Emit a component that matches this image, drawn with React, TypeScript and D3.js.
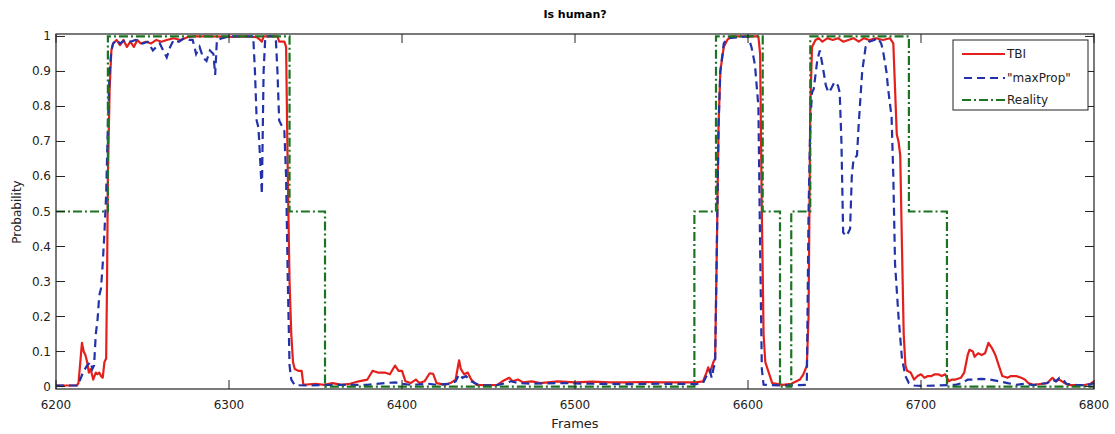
import * as d3 from "d3";

// TBI (red, solid)
const tbiFrames = [
  6200, 6212, 6213, 6215, 6216, 6217, 6218, 6219, 6220, 6221.5, 6223, 6224, 6225, 6226, 6227, 6228, 6229, 6229.5, 6230, 6231,
  6232, 6233, 6235, 6237, 6239, 6241, 6243, 6245, 6247, 6249, 6252, 6255, 6258, 6261, 6264, 6268, 6272, 6276, 6280, 6290,
  6300, 6310, 6316, 6318, 6319, 6320, 6328, 6329, 6332, 6333, 6334, 6335, 6336, 6337, 6338, 6340, 6342, 6343, 6350, 6355,
  6360, 6365, 6370, 6375, 6380, 6383, 6386, 6390, 6393, 6396, 6398, 6400, 6402, 6405, 6408, 6410, 6413, 6416, 6418, 6420,
  6425, 6428, 6431, 6433, 6434, 6436, 6438, 6440, 6443, 6450, 6455, 6458, 6460, 6462, 6464, 6467, 6470, 6475, 6480, 6490,
  6500, 6510, 6520, 6530, 6540, 6550, 6560, 6570, 6574, 6576, 6577, 6578, 6580, 6581, 6582, 6583, 6584, 6586, 6588, 6590,
  6606, 6607, 6608, 6609, 6610, 6612, 6614, 6620, 6625, 6628, 6630, 6632, 6634, 6635, 6636, 6637, 6639, 6641, 6643, 6646,
  6649, 6652, 6655, 6658, 6661, 6664, 6667, 6670, 6674, 6678, 6682, 6684, 6685, 6686, 6687, 6688, 6689, 6690, 6691, 6692,
  6694, 6696, 6698, 6700, 6702, 6704, 6706, 6708, 6710, 6712, 6714, 6716, 6718, 6720, 6723, 6725, 6727, 6728, 6730, 6731,
  6733, 6735, 6737, 6739, 6741, 6743, 6745, 6747, 6750, 6752, 6755, 6758, 6760, 6762, 6765, 6770, 6773, 6776, 6778, 6780,
  6783, 6785, 6790, 6795, 6798, 6800,
];
const tbiValues = [
  0.003, 0.003, 0.01, 0.125, 0.1, 0.09, 0.07, 0.04, 0.05, 0.02, 0.04, 0.035, 0.04, 0.03, 0.025, 0.07, 0.08, 0.3, 0.6, 0.85,
  0.96, 0.98, 0.99, 0.975, 0.99, 0.97, 0.985, 0.97, 0.99, 0.98, 0.985, 0.98, 0.99, 0.985, 0.99, 0.995, 0.99, 0.998, 1.0, 1.0,
  0.999, 1.0, 0.998, 0.99, 0.985, 1.0, 1.0, 0.985, 0.985, 0.97, 0.6, 0.3, 0.15, 0.07, 0.05, 0.045, 0.045, 0.005, 0.008, 0.005,
  0.01, 0.005, 0.008, 0.015, 0.02, 0.045, 0.04, 0.04, 0.035, 0.06, 0.045, 0.045, 0.015, 0.01, 0.02, 0.01, 0.015, 0.038, 0.036, 0.01,
  0.005, 0.01, 0.02, 0.075, 0.05, 0.035, 0.04, 0.02, 0.005, 0.004, 0.005, 0.015, 0.02, 0.025, 0.015, 0.02, 0.012, 0.015, 0.01, 0.015,
  0.012, 0.014, 0.012, 0.012, 0.013, 0.012, 0.012, 0.012, 0.015, 0.04, 0.055, 0.04, 0.07, 0.08, 0.4, 0.75, 0.9, 0.97, 0.99, 1.0,
  1.0, 0.95, 0.5, 0.15, 0.07, 0.04, 0.01, 0.005, 0.008, 0.015, 0.02, 0.035, 0.06, 0.2, 0.8, 0.97, 0.99, 0.995, 0.985, 0.995,
  0.99, 0.995, 0.985, 0.99, 0.995, 0.985, 0.995, 0.99, 0.995, 0.99, 0.995, 0.98, 0.85, 0.72, 0.7, 0.66, 0.4, 0.15, 0.06, 0.045,
  0.04, 0.02, 0.03, 0.035, 0.025, 0.03, 0.03, 0.035, 0.035, 0.03, 0.035, 0.015, 0.02, 0.02, 0.025, 0.04, 0.09, 0.105, 0.1, 0.085,
  0.095, 0.09, 0.095, 0.125, 0.11, 0.09, 0.06, 0.03, 0.025, 0.03, 0.03, 0.025, 0.02, 0.01, 0.005, 0.008, 0.01, 0.025, 0.015, 0.02,
  0.01, 0.005, 0.004, 0.005, 0.008, 0.015,
];

// "maxProp" (blue, dashed)
const maxPropFrames = [
  6200, 6212, 6213, 6214, 6216, 6218, 6220, 6221, 6222, 6223, 6224, 6225, 6226, 6227, 6228, 6229, 6230, 6231, 6232, 6233,
  6235, 6237, 6240, 6243, 6246, 6250, 6253, 6256, 6258, 6260, 6262, 6264, 6266, 6268, 6271, 6274, 6277, 6279, 6281, 6283,
  6285, 6287, 6289, 6291, 6292, 6293, 6296, 6300, 6314, 6315, 6316, 6317, 6318, 6319, 6320, 6321, 6327, 6328, 6329, 6331,
  6332, 6333, 6334, 6335, 6336, 6338, 6345, 6360, 6380, 6390, 6396, 6400, 6405, 6410, 6415, 6420, 6428, 6431, 6433, 6435,
  6437, 6440, 6445, 6455, 6460, 6463, 6467, 6475, 6490, 6510, 6530, 6550, 6570, 6574, 6576, 6578, 6579, 6580, 6581, 6582,
  6583, 6584, 6586, 6588, 6600, 6602, 6604, 6606, 6607, 6608, 6609, 6620, 6630, 6634, 6635, 6636, 6637, 6638, 6640, 6641.5,
  6643, 6645, 6646.5, 6648, 6650, 6652, 6653, 6654, 6655, 6657, 6659, 6660, 6661, 6663, 6664, 6666, 6668, 6670, 6673, 6675,
  6677, 6678, 6680, 6681, 6683, 6684, 6685, 6687, 6689, 6691, 6693, 6696, 6700, 6710, 6720, 6724, 6727, 6730, 6735, 6740,
  6745, 6750, 6755, 6760, 6765, 6770, 6773, 6776, 6778, 6780, 6782, 6784, 6790, 6795, 6798, 6800,
];
const maxPropValues = [
  0.003, 0.003, 0.008, 0.02, 0.045, 0.06, 0.07, 0.05, 0.06, 0.15, 0.19, 0.26, 0.28, 0.35, 0.44, 0.55, 0.75, 0.9, 0.96, 0.98,
  0.99, 0.98, 0.99, 0.985, 0.99, 0.98, 0.985, 0.96, 0.97, 0.98, 0.96, 0.94, 0.97, 0.99, 0.985, 0.995, 0.99, 0.99, 0.95, 0.97,
  0.94, 0.93, 0.96, 0.95, 0.89, 0.99, 0.995, 1.0, 1.0, 0.9, 0.76, 0.74, 0.65, 0.55, 0.9, 1.0, 1.0, 0.9, 0.76, 0.74,
  0.73, 0.6, 0.3, 0.06, 0.02, 0.004, 0.003, 0.005, 0.005, 0.01, 0.012, 0.008, 0.005, 0.006, 0.008, 0.005, 0.008, 0.015, 0.035, 0.025,
  0.03, 0.015, 0.003, 0.004, 0.01, 0.015, 0.01, 0.008, 0.01, 0.008, 0.007, 0.008, 0.007, 0.01, 0.03, 0.045, 0.025, 0.05, 0.07, 0.4,
  0.75, 0.9, 0.98, 0.995, 1.0, 0.97, 0.92, 0.8, 0.4, 0.05, 0.005, 0.003, 0.004, 0.005, 0.5, 0.75, 0.84, 0.85, 0.93, 0.96,
  0.92, 0.86, 0.84, 0.85, 0.87, 0.86, 0.84, 0.7, 0.44, 0.43, 0.45, 0.6, 0.65, 0.66, 0.75, 0.9, 0.97, 0.985, 0.99, 0.996,
  0.98, 0.96, 0.9, 0.85, 0.77, 0.6, 0.35, 0.2, 0.08, 0.03, 0.01, 0.003, 0.002, 0.003, 0.005, 0.01, 0.02, 0.02, 0.022, 0.02,
  0.015, 0.01, 0.005, 0.008, 0.004, 0.008, 0.01, 0.02, 0.015, 0.025, 0.02, 0.008, 0.004, 0.004, 0.006, 0.01,
];

// Reality (green, dash-dot) - value holds until the next change frame
const realityFrames = [6200, 6230, 6335, 6355.5, 6569, 6581.5, 6608.5, 6618.5, 6625, 6636, 6693, 6715, 6800];
const realityValues = [0.5, 1, 0.5, 0, 0.5, 1, 0.5, 0, 0.5, 1, 0.5, 0, 0];

const xTicks = [6200, 6300, 6400, 6500, 6600, 6700, 6800];
const yTicks = [0, 0.1, 0.2, 0.3, 0.4, 0.5, 0.6, 0.7, 0.8, 0.9, 1];

const RED = "#e3201c";
const BLUE = "#2233aa";
const GREEN = "#1c7422";
const FONT = "DejaVu Sans";
const BLUE_DASH = "8,5";
const GREEN_DASH = "9,3,2,3";

type Pt = [number, number];
const zip = (fs: number[], vs: number[]): Pt[] => fs.map((f, i) => [f, vs[i]]);

export default function App() {
  const width = 1115;
  const height = 434;
  const left = 56;
  const right = 1094;
  const top = 34;
  const bottom = 389;

  const x = d3.scaleLinear().domain([6200, 6800]).range([left, right]);
  const y = d3.scaleLinear().domain([-0.007, 1.007]).range([bottom, top]);

  const line = d3
    .line<Pt>()
    .x((d) => x(d[0]))
    .y((d) => y(d[1]));
  const stepLine = d3
    .line<Pt>()
    .x((d) => x(d[0]))
    .y((d) => y(d[1]))
    .curve(d3.curveStepAfter);

  const tickLen = 9;
  const lx = 953;
  const ly = 40;

  return (
    <svg
      width={width}
      height={height}
      style={{ position: "absolute", left: 0, top: 0, background: "#fff" }}
      fontFamily={FONT}
    >
      <text x={575} y={18} textAnchor="middle" fontSize={11} fontWeight="bold">
        Is human?
      </text>

      <defs>
        <clipPath id="plot">
          <rect x={left} y={top - 2} width={right - left} height={bottom - top + 4} />
        </clipPath>
      </defs>

      <g clipPath="url(#plot)" fill="none" strokeWidth={2.2}>
        <path d={line(zip(tbiFrames, tbiValues)) || ""} stroke={RED} strokeLinejoin="round" />
        <path d={line(zip(maxPropFrames, maxPropValues)) || ""} stroke={BLUE} strokeDasharray={BLUE_DASH} />
        <path d={stepLine(zip(realityFrames, realityValues)) || ""} stroke={GREEN} strokeDasharray={GREEN_DASH} />
      </g>

      {/* box */}
      <rect x={left} y={top} width={right - left} height={bottom - top} fill="none" stroke="#222" strokeWidth={1.2} />

      {/* x ticks */}
      {xTicks.map((t) => (
        <g key={"x" + t}>
          <line x1={x(t)} x2={x(t)} y1={bottom} y2={bottom - tickLen} stroke="#222" />
          <line x1={x(t)} x2={x(t)} y1={top} y2={top + tickLen} stroke="#222" />
          <text x={x(t)} y={409} textAnchor="middle" fontSize={12} fill="#222">
            {t}
          </text>
        </g>
      ))}

      {/* y ticks */}
      {yTicks.map((t) => (
        <g key={"y" + t}>
          <line x1={left} x2={left + tickLen} y1={y(t)} y2={y(t)} stroke="#222" />
          <line x1={right} x2={right - tickLen} y1={y(t)} y2={y(t)} stroke="#222" />
          <text x={51} y={y(t) + 4} textAnchor="end" fontSize={12} fill="#222">
            {t}
          </text>
        </g>
      ))}

      <text x={575} y={428} textAnchor="middle" fontSize={13} fill="#222">
        Frames
      </text>
      <text
        transform="translate(21,212) rotate(-90)"
        textAnchor="middle"
        fontSize={12}
        fill="#222"
      >
        Probability
      </text>

      {/* legend */}
      <g>
        <rect x={lx} y={ly} width={135} height={70} fill="#fff" stroke="#222" />
        <line x1={962} x2={1005} y1={54} y2={54} stroke={RED} strokeWidth={2} />
        <text x={1007} y={58} fontSize={12} fill="#222">TBI</text>
        <line x1={964} x2={1005} y1={78} y2={78} stroke={BLUE} strokeWidth={2} strokeDasharray={BLUE_DASH} />
        <text x={1007} y={82} fontSize={12} fill="#222">"maxProp"</text>
        <line x1={962} x2={1005} y1={100} y2={100} stroke={GREEN} strokeWidth={2} strokeDasharray={GREEN_DASH} />
        <text x={1007} y={104} fontSize={12} fill="#222">Reality</text>
      </g>
    </svg>
  );
}
